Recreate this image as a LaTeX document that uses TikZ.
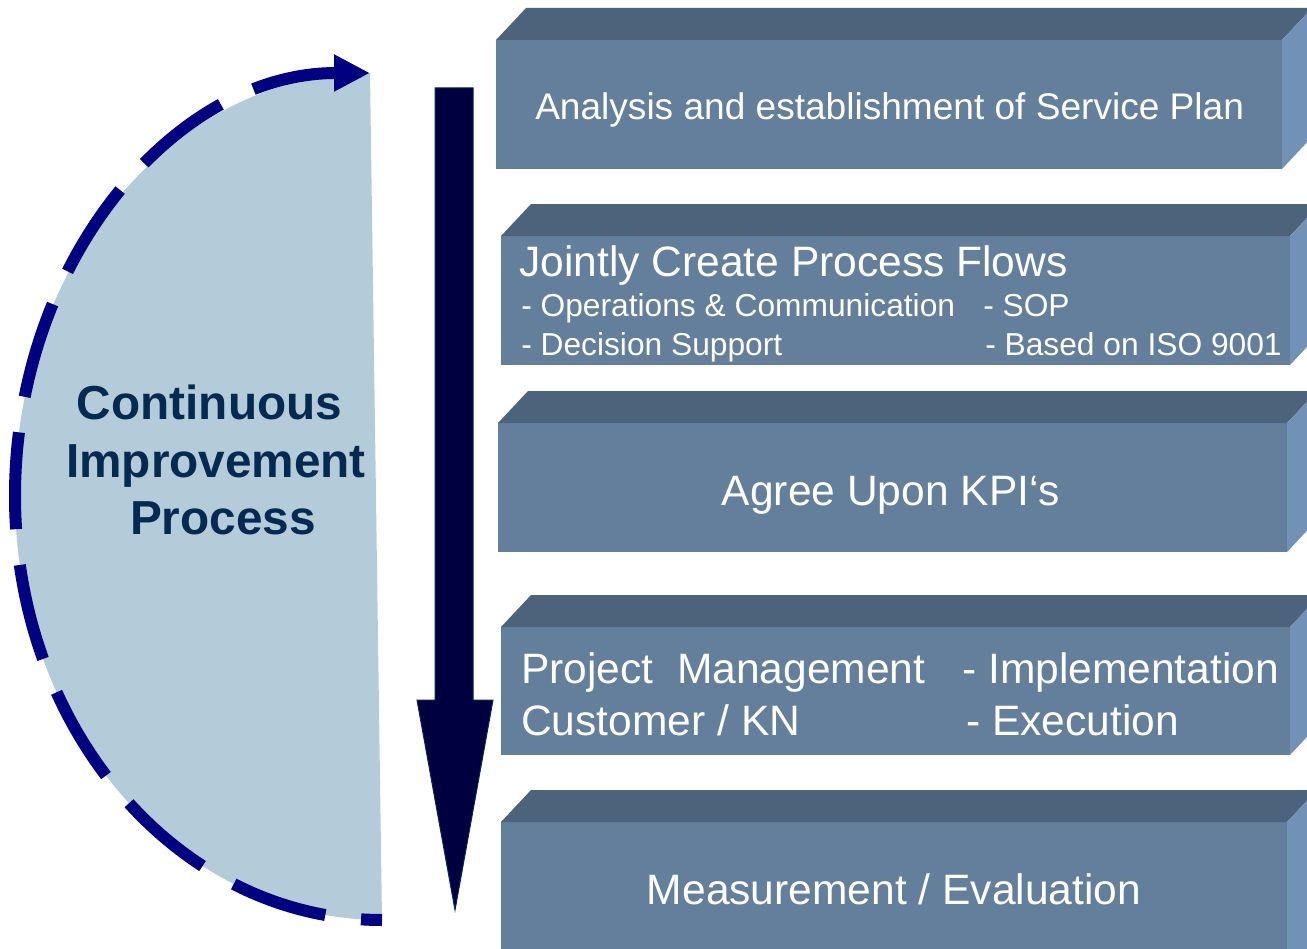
\documentclass[tikz,border=0pt]{standalone}
\usepackage{fontspec}
\setmainfont{Liberation Sans}
\usetikzlibrary{arrows.meta}
\definecolor{frontc}{RGB}{99,127,155}
\definecolor{topc}{RGB}{77,99,124}
\definecolor{sidec}{RGB}{114,145,182}
\definecolor{discc}{RGB}{180,204,217}
\definecolor{dashc}{RGB}{0,0,128}
\definecolor{arrowc}{RGB}{0,0,64}
\definecolor{titlec}{RGB}{5,42,82}
% #1 left, #2 right, #3 front top, #4 bottom
\newcommand\cubeblock[4]{%
  \fill[frontc] (#1,#3) rectangle (#2,#4);
  \fill[topc] (#1,#3) -- ++(30,-32) -- (#2+30,#3-32) -- (#2,#3) -- cycle;
  \fill[sidec] (#2,#3) -- (#2+30,#3-32) -- (#2+30,#4-32) -- (#2,#4) -- cycle;
}
\tikzset{
  boxtext/.style={text=white, inner sep=0pt},
  fbig/.style={font=\fontsize{31.9}{36}\selectfont},
  fmid/.style={font=\fontsize{27.8}{32}\selectfont},
  fsmall/.style={font=\fontsize{23.8}{28}\selectfont},
  titletext/.style={text=titlec, inner sep=0pt, anchor=base, font=\fontsize{35.8}{40}\selectfont\bfseries},
}
\begin{document}
\begin{tikzpicture}[x=0.75pt,y=-0.75pt]
\useasboundingbox (0,0) rectangle (1307,949);
\clip (0,0) rectangle (1307,949);
% blocks
\cubeblock{496}{1282}{40}{169}
\cubeblock{501}{1290}{236}{365}
\cubeblock{498}{1287}{423}{552}
\cubeblock{501}{1290}{627}{755}
\cubeblock{501}{1287}{822}{980}
% texts in blocks
\node[boxtext, fmid, anchor=base west] (t1) at (535,119) {Analysis and establishment of Service Plan};
\node[boxtext, fbig, anchor=base west] (t2) at (519,276) {Jointly Create Process Flows};
\node[boxtext, fsmall, anchor=base west] (t2a) at (521,316) {- Operations \& Communication};
\node[boxtext, fsmall, anchor=base west] (t2b) at (983,316) {- SOP};
\node[boxtext, fsmall, anchor=base west] (t2c) at (521,355) {- Decision Support};
\node[boxtext, fsmall, anchor=base west] (t2d) at (985,355) {- Based on ISO 9001};
\node[boxtext, fbig, anchor=base] (t3) at (891,505) {Agree Upon KPI‘s};
\node[boxtext, fbig, anchor=base west] (t4a) at (521,683) {Project\ \ Management};
\node[boxtext, fbig, anchor=base west] (t4b) at (962,683) {- Implementation};
\node[boxtext, fbig, anchor=base west] (t4c) at (521,735) {Customer / KN};
\node[boxtext, fbig, anchor=base west] (t4d) at (966,735) {- Execution};
\node[boxtext, fbig, anchor=base] (t5) at (894,904) {Measurement / Evaluation};
% half disc
\fill[discc] (382,920) .. controls (179,920) and (15,730) .. (15,496)
  .. controls (15,262) and (174,73) .. (370,73) -- cycle;
\draw[dashc, line width=9pt, dash pattern=on 72.75pt off 27pt, dash phase=57pt,
  -{Triangle[length=27pt,width=26pt]}]
  (382,920) .. controls (179,920) and (15,730) .. (15,496)
  .. controls (15,262) and (174,73) .. (370,73);
% down arrow
\fill[arrowc, draw=titlec, line width=0.75pt] (435,88) -- (473,88) -- (473,700) -- (493,700)
  -- (455,910) -- (417,700) -- (435,700) -- cycle;
% title
\node[titletext] (c1) at (209.5,419) {Continuous};
\node[titletext] (c2) at (216,477) {Improvement};
\node[titletext] (c3) at (223,534) {Process};
\end{tikzpicture}
\end{document}
